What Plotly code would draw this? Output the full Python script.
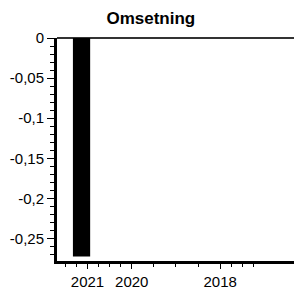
import plotly.graph_objects as go

# Data
years = [2021]
omsetning = [-0.2725]

x_tick_vals = [2021, 2020, 2018]
x_tick_text = ["2021", "2020", "2018"]
x_minor_vals = [2021.5, 2021.25, 2020.75, 2020.5, 2020.25, 2019.5, 2019, 2018.5, 2017.75, 2017.5, 2017.25]

y_tick_vals = [0, -0.05, -0.1, -0.15, -0.2, -0.25]
y_tick_text = ["0", "-0,05", "-0,1", "-0,15", "-0,2", "-0,25"]

fig = go.Figure()
fig.add_trace(go.Bar(
    x=years, y=omsetning,
    width=0.39, offset=-0.06,
    marker=dict(color="black", line=dict(color="black", width=0)),
    showlegend=False,
))

font_family = "Liberation Sans, Arial, sans-serif"

fig.update_layout(
    width=294, height=289,
    margin=dict(l=57, r=0, t=38, b=28, autoexpand=False),
    paper_bgcolor="white", plot_bgcolor="white",
    separators=",.",
    title=dict(text="<b>Omsetning</b>", x=0.513, xanchor="center", y=0.937, yanchor="middle",
               font=dict(family=font_family, size=17, color="black")),
    font=dict(family=font_family, size=15, color="black"),
    xaxis=dict(
        range=[2021.69, 2016.33],
        tickmode="array", tickvals=x_tick_vals, ticktext=x_tick_text,
        ticks="outside", ticklen=5, tickwidth=1, tickcolor="black",
        showline=True, linecolor="black", linewidth=3,
        showgrid=False, zeroline=False,
        minor=dict(tickmode="array", tickvals=x_minor_vals, ticks="outside", ticklen=3,
                   tickwidth=1, tickcolor="black", showgrid=False),
        tickfont=dict(size=15),
    ),
    yaxis=dict(
        range=[-0.278, 0],
        tickmode="array", tickvals=y_tick_vals, ticktext=y_tick_text,
        ticks="outside", ticklen=7, tickwidth=1, tickcolor="black",
        showline=True, linecolor="black", linewidth=3,
        showgrid=False,
        zeroline=True, zerolinecolor="#333333", zerolinewidth=2,
        minor=dict(dtick=0.01, tick0=0, ticks="outside", ticklen=4, tickwidth=1,
                   tickcolor="black", showgrid=False),
        tickfont=dict(size=15),
    ),
)

fig.write_html(
    "out.html",
    config={"displayModeBar": False},
    post_script="document.body.style.margin='0';document.body.style.overflow='hidden';",
)
